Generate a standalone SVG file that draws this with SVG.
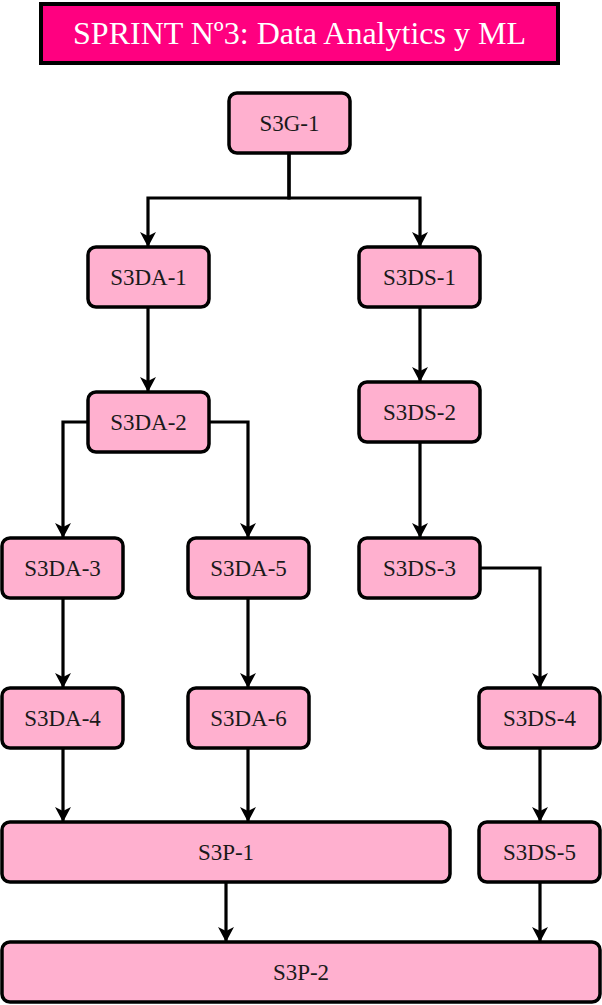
<svg xmlns="http://www.w3.org/2000/svg" width="602" height="1005" viewBox="0 0 602 1005">
<style>
.node rect{fill:#FFB0CF;stroke:#000;stroke-width:3.5}
.node text{font-size:23px;fill:#1a1a1a;text-anchor:middle}
.title rect{fill:#FF0080;stroke:#000;stroke-width:4}
.title text{font-size:32px;fill:#fff;text-anchor:middle}
.conn path{fill:none;stroke:#000;stroke-width:3.2;marker-end:url(#arr)}
</style>
<defs>
<marker id="arr" markerUnits="userSpaceOnUse" markerWidth="16" markerHeight="16" viewBox="0 0 16 16" refX="15" refY="8" orient="auto">
<path d="M0,0 L15,8 L0,16 L4,8 z" fill="#000"/>
</marker>
</defs>
<g font-family="'Liberation Serif', 'Times New Roman', 'DejaVu Serif', serif">
<g id="title" class="title"><rect x="41" y="4" width="517" height="59"/><text x="299.5" y="44">SPRINT Nº3: Data Analytics y ML</text></g>
<g id="conns" class="conn">
<path d="M289,153 V198 H148 V247"/>
<path d="M289,153 V198 H420 V247"/>
<path d="M148,307 V392"/>
<path d="M420,307 V382"/>
<path d="M88,422 H63 V538"/>
<path d="M208,422 H248 V538"/>
<path d="M420,442 V538"/>
<path d="M480,568 H540 V688"/>
<path d="M63,598 V688"/>
<path d="M248,598 V688"/>
<path d="M63,748 V822"/>
<path d="M248,748 V822"/>
<path d="M540,748 V822"/>
<path d="M226,882 V942"/>
<path d="M540,882 V942"/>
</g>
<g id="S3G-1" class="node"><rect x="229" y="93" width="121" height="60" rx="8"/><text x="289.5" y="131">S3G-1</text></g>
<g id="S3DA-1" class="node"><rect x="88" y="247" width="121" height="60" rx="8"/><text x="148.5" y="285">S3DA-1</text></g>
<g id="S3DS-1" class="node"><rect x="359" y="247" width="121" height="60" rx="8"/><text x="419.5" y="285">S3DS-1</text></g>
<g id="S3DA-2" class="node"><rect x="88" y="392" width="121" height="60" rx="8"/><text x="148.5" y="430">S3DA-2</text></g>
<g id="S3DS-2" class="node"><rect x="359" y="382" width="121" height="60" rx="8"/><text x="419.5" y="420">S3DS-2</text></g>
<g id="S3DA-3" class="node"><rect x="2" y="538" width="121" height="60" rx="8"/><text x="62.5" y="576">S3DA-3</text></g>
<g id="S3DA-5" class="node"><rect x="188" y="538" width="121" height="60" rx="8"/><text x="248.5" y="576">S3DA-5</text></g>
<g id="S3DS-3" class="node"><rect x="359" y="538" width="121" height="60" rx="8"/><text x="419.5" y="576">S3DS-3</text></g>
<g id="S3DA-4" class="node"><rect x="2" y="688" width="121" height="60" rx="8"/><text x="62.5" y="726">S3DA-4</text></g>
<g id="S3DA-6" class="node"><rect x="188" y="688" width="121" height="60" rx="8"/><text x="248.5" y="726">S3DA-6</text></g>
<g id="S3DS-4" class="node"><rect x="479" y="688" width="121" height="60" rx="8"/><text x="539.5" y="726">S3DS-4</text></g>
<g id="S3P-1" class="node"><rect x="2" y="822" width="448" height="60" rx="8"/><text x="226" y="860">S3P-1</text></g>
<g id="S3DS-5" class="node"><rect x="479" y="822" width="121" height="60" rx="8"/><text x="539.5" y="860">S3DS-5</text></g>
<g id="S3P-2" class="node"><rect x="2" y="942" width="598" height="60" rx="8"/><text x="301" y="980">S3P-2</text></g>
</g>
</svg>
